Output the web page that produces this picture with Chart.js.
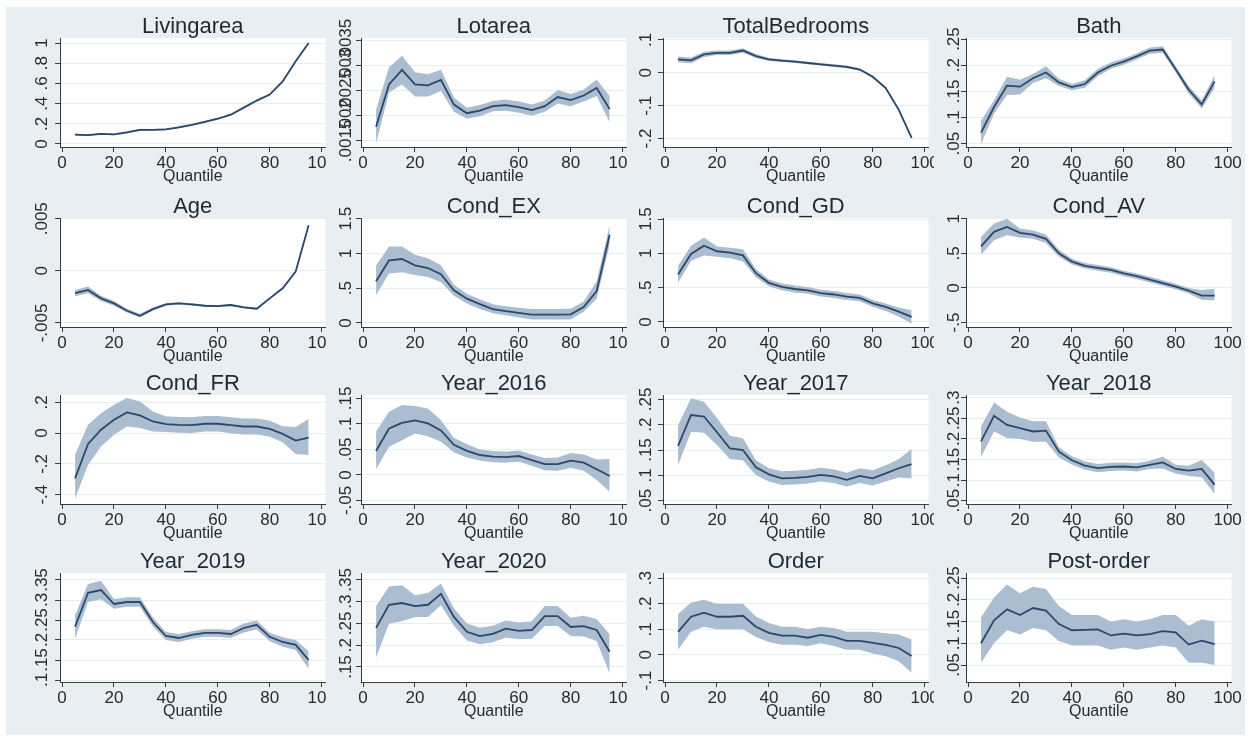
<!DOCTYPE html>
<html>
<head>
<meta charset="utf-8">
<script src="https://cdn.jsdelivr.net/npm/chart.js@4.4.1/dist/chart.umd.min.js"></script>
<style>
  html, body { margin: 0; padding: 0; background: #ffffff; overflow: hidden; }
  #board { position: absolute; left: 6px; top: 7px; width: 1239px; height: 728px; background: #e8eef1; }
  canvas.panel { position: absolute; background: #e8eef1; }
</style>
</head>
<body>
<div id="board"></div>
<script>
// Quantile grid shared by every panel
const quantiles = [5, 10, 15, 20, 25, 30, 35, 40, 45, 50, 55, 60, 65, 70, 75, 80, 85, 90, 95];
const xTickValues = [0, 20, 40, 60, 80, 100];

// Livingarea
const livingareaEst = [.092, .088, .100, .095, .115, .140, .140, .145, .165, .190, .220, .250, .290, .360, .430, .490, .620, .820, 1.000];
const livingareaHi  = [.102, .097, .109, .104, .125, .150, .149, .154, .175, .200, .230, .260, .300, .370, .440, .500, .630, .830, 1.010];
const livingareaLo  = [.082, .079, .091, .086, .105, .130, .131, .136, .155, .180, .210, .240, .280, .350, .420, .480, .610, .810, .990];
const livingareaTicks = ['0', '.2', '.4', '.6', '.8', '1'];

// Lotarea
const lotareaEst = [.00178, .00262, .00291, .00262, .00260, .00271, .00222, .00205, .00210, .00219, .00221, .00217, .00211, .00219, .00237, .00231, .00240, .00255, .00213];
const lotareaHi  = [.00212, .00296, .00319, .00286, .00282, .00291, .00236, .00216, .00221, .00229, .00232, .00228, .00222, .00230, .00251, .00243, .00252, .00272, .00239];
const lotareaLo  = [.00145, .00246, .00262, .00238, .00238, .00249, .00208, .00194, .00199, .00209, .00210, .00206, .00200, .00208, .00224, .00219, .00228, .00239, .00187];
const lotareaTicks = ['.0015', '.002', '.0025', '.003', '.0035'];

// TotalBedrooms
const bedroomsEst = [.041, .038, .056, .061, .061, .068, .051, .041, .037, .034, .030, .026, .022, .018, .010, -.012, -.046, -.112, -.198];
const bedroomsHi  = [.050, .047, .064, .068, .068, .075, .057, .046, .041, .038, .034, .030, .026, .022, .014, -.008, -.042, -.108, -.194];
const bedroomsLo  = [.032, .029, .048, .054, .054, .061, .045, .036, .033, .030, .026, .022, .018, .014, .006, -.016, -.050, -.116, -.202];
const bedroomsTicks = ['-.2', '-.1', '0', '.1'];

// Bath
const bathEst = [.071, .120, .161, .159, .175, .186, .167, .158, .164, .186, .199, .207, .217, .228, .230, .192, .153, .125, .169];
const bathHi  = [.094, .133, .178, .172, .183, .198, .174, .164, .171, .193, .205, .213, .223, .234, .236, .198, .160, .133, .181];
const bathLo  = [.049, .107, .143, .144, .166, .175, .160, .152, .157, .179, .193, .201, .211, .222, .224, .186, .146, .117, .157];
const bathTicks = ['.05', '.1', '.15', '.2', '.25'];

// Age
const ageEst = [-.00215, -.00183, -.00264, -.00312, -.00383, -.00431, -.00367, -.00322, -.00312, -.00322, -.00335, -.00338, -.00328, -.00350, -.00364, -.00264, -.00167, -.00007, .00437];
const ageHi  = [-.00185, -.00150, -.00238, -.00290, -.00365, -.00413, -.00352, -.00310, -.00301, -.00312, -.00326, -.00329, -.00319, -.00341, -.00355, -.00255, -.00158, .00003, .00448];
const ageLo  = [-.00245, -.00216, -.00290, -.00334, -.00401, -.00449, -.00382, -.00334, -.00323, -.00332, -.00344, -.00347, -.00337, -.00359, -.00373, -.00273, -.00176, -.00017, .00426];
const ageTicks = ['-.005', '0', '.005'];

// Cond_EX
const condExEst = [.60, .90, .92, .83, .79, .70, .47, .35, .27, .20, .17, .145, .12, .12, .12, .125, .23, .46, 1.27];
const condExHi  = [.83, 1.10, 1.10, .98, .93, .83, .55, .42, .34, .27, .24, .22, .20, .20, .20, .205, .31, .60, 1.41];
const condExLo  = [.40, .71, .73, .69, .66, .59, .39, .28, .20, .14, .11, .08, .05, .05, .05, .05, .16, .35, 1.12];
const condExTicks = ['0', '.5', '1', '1.5'];

// Cond_GD
const condGdEst = [.69, .99, 1.11, 1.03, 1.01, .97, .71, .57, .51, .48, .46, .42, .40, .37, .35, .27, .22, .15, .074];
const condGdHi  = [.82, 1.11, 1.23, 1.10, 1.08, 1.06, .77, .62, .56, .53, .51, .47, .45, .42, .40, .32, .27, .21, .17];
const condGdLo  = [.57, .89, .97, .95, .93, .88, .65, .52, .46, .43, .41, .37, .35, .32, .30, .22, .16, .08, -.025];
const condGdTicks = ['0', '.5', '1', '1.5'];

// Cond_AV
const condAvEst = [.60, .81, .88, .795, .77, .71, .50, .38, .32, .29, .26, .21, .17, .12, .07, .02, -.04, -.11, -.11];
const condAvHi  = [.74, .93, 1.00, .86, .83, .77, .55, .42, .36, .33, .30, .25, .21, .16, .11, .06, .00, -.03, -.01];
const condAvLo  = [.48, .69, .76, .73, .71, .65, .45, .34, .28, .25, .22, .17, .13, .08, .03, -.02, -.08, -.17, -.18];
const condAvTicks = ['-.5', '0', '.5', '1'];

// Cond_FR
const condFrEst = [-.294, -.070, .022, .087, .135, .115, .076, .059, .054, .052, .061, .061, .052, .043, .043, .028, -.005, -.048, -.029];
const condFrHi  = [-.140, .054, .130, .185, .229, .206, .141, .110, .105, .103, .112, .112, .104, .095, .095, .080, .045, .040, .092];
const condFrLo  = [-.425, -.207, -.087, -.011, .043, .033, .011, .008, .003, .001, .010, .010, .000, -.009, -.009, -.024, -.060, -.135, -.142];
const condFrTicks = ['-.4', '-.2', '0', '.2'];

// Year_2016
const y2016Est = [.047, .091, .102, .107, .101, .087, .059, .047, .039, .036, .035, .037, .029, .021, .021, .028, .024, .011, -.002];
const y2016Hi  = [.085, .124, .137, .135, .130, .107, .073, .060, .050, .047, .046, .048, .040, .033, .034, .043, .040, .030, .031];
const y2016Lo  = [.011, .055, .068, .081, .076, .065, .044, .034, .028, .025, .024, .026, .018, .009, .008, .014, .008, -.010, -.033];
const y2016Ticks = ['-.05', '0', '.05', '.1', '.15'];

// Year_2017
const y2017Est = [.158, .219, .216, .185, .153, .150, .116, .102, .094, .095, .097, .101, .098, .091, .099, .094, .104, .114, .122];
const y2017Hi  = [.199, .252, .245, .213, .178, .173, .130, .114, .108, .109, .111, .115, .112, .105, .114, .110, .120, .132, .152];
const y2017Lo  = [.120, .186, .184, .160, .132, .130, .100, .088, .081, .082, .084, .088, .085, .078, .085, .080, .088, .096, .094];
const y2017Ticks = ['.05', '.1', '.15', '.2', '.25'];

// Year_2018
const y2018Est = [.194, .256, .234, .226, .218, .220, .169, .148, .135, .129, .132, .133, .131, .137, .143, .127, .123, .127, .089];
const y2018Hi  = [.230, .288, .266, .252, .243, .243, .180, .158, .145, .139, .142, .143, .141, .147, .157, .137, .135, .149, .118];
const y2018Lo  = [.156, .218, .202, .200, .193, .193, .155, .138, .125, .119, .122, .123, .121, .127, .128, .116, .110, .107, .066];
const y2018Ticks = ['.05', '.1', '.15', '.2', '.25', '.3'];

// Year_2019
const y2019Est = [.233, .318, .325, .290, .295, .295, .245, .210, .205, .213, .218, .218, .215, .230, .238, .208, .195, .188, .150];
const y2019Hi  = [.262, .340, .348, .302, .307, .307, .256, .220, .215, .222, .227, .227, .225, .241, .249, .218, .207, .200, .172];
const y2019Lo  = [.203, .295, .302, .278, .283, .283, .234, .200, .195, .203, .208, .208, .205, .219, .226, .197, .183, .175, .128];
const y2019Ticks = ['.1', '.15', '.2', '.25', '.3', '.35'];

// Year_2020
const y2020Est = [.240, .293, .297, .290, .293, .318, .265, .231, .221, .226, .238, .233, .235, .267, .267, .242, .244, .235, .185];
const y2020Hi  = [.290, .335, .338, .315, .320, .342, .285, .250, .240, .245, .257, .252, .255, .290, .290, .263, .268, .260, .225];
const y2020Lo  = [.172, .250, .255, .265, .265, .292, .245, .211, .202, .207, .218, .214, .215, .244, .244, .221, .220, .210, .135];
const y2020Ticks = ['.15', '.2', '.25', '.3', '.35'];

// Order
const orderEst = [.090, .149, .165, .149, .149, .153, .110, .086, .075, .075, .067, .078, .070, .055, .055, .047, .039, .027, -.004];
const orderHi  = [.160, .205, .215, .200, .200, .200, .150, .125, .110, .110, .100, .110, .105, .090, .090, .090, .085, .080, .060];
const orderLo  = [.020, .090, .110, .100, .100, .100, .070, .050, .040, .040, .035, .045, .035, .020, .020, .005, -.005, -.025, -.070];
const orderTicks = ['-.1', '0', '.1', '.2', '.3'];

// Post-order
const postOrderEst = [.100, .153, .178, .165, .181, .175, .144, .130, .131, .132, .118, .122, .118, .121, .128, .125, .097, .106, .098];
const postOrderHi  = [.160, .205, .235, .215, .230, .225, .185, .165, .165, .165, .150, .155, .150, .155, .165, .165, .140, .155, .150];
const postOrderLo  = [.055, .100, .130, .120, .135, .130, .105, .095, .095, .095, .085, .090, .085, .090, .095, .090, .055, .055, .050];
const postOrderTicks = ['.05', '.1', '.15', '.2', '.25'];

// Panel list: series, tick labels and vertical axis range of each small multiple
const panels = [
  { title: 'Livingarea',    est: livingareaEst, hi: livingareaHi, lo: livingareaLo, ticks: livingareaTicks, yMin: -.03,    yMax: 1.05 },
  { title: 'Lotarea',       est: lotareaEst,    hi: lotareaHi,    lo: lotareaLo,    ticks: lotareaTicks,    yMin: .00138,  yMax: .00354 },
  { title: 'TotalBedrooms', est: bedroomsEst,   hi: bedroomsHi,   lo: bedroomsLo,   ticks: bedroomsTicks,   yMin: -.2256,  yMax: .106 },
  { title: 'Bath',          est: bathEst,       hi: bathHi,       lo: bathLo,       ticks: bathTicks,       yMin: .0436,   yMax: .252 },
  { title: 'Age',           est: ageEst,        hi: ageHi,        lo: ageLo,        ticks: ageTicks,        yMin: -.00539, yMax: .00507 },
  { title: 'Cond_EX',       est: condExEst,     hi: condExHi,     lo: condExLo,     ticks: condExTicks,     yMin: -.058,   yMax: 1.51 },
  { title: 'Cond_GD',       est: condGdEst,     hi: condGdHi,     lo: condGdLo,     ticks: condGdTicks,     yMin: -.074,   yMax: 1.515 },
  { title: 'Cond_AV',       est: condAvEst,     hi: condAvHi,     lo: condAvLo,     ticks: condAvTicks,     yMin: -.564,   yMax: 1.01 },
  { title: 'Cond_FR',       est: condFrEst,     hi: condFrHi,     lo: condFrLo,     ticks: condFrTicks,     yMin: -.461,   yMax: .248 },
  { title: 'Year_2016',     est: y2016Est,      hi: y2016Hi,      lo: y2016Lo,      ticks: y2016Ticks,      yMin: -.057,   yMax: .1566 },
  { title: 'Year_2017',     est: y2017Est,      hi: y2017Hi,      lo: y2017Lo,      ticks: y2017Ticks,      yMin: .0435,   yMax: .2585 },
  { title: 'Year_2018',     est: y2018Est,      hi: y2018Hi,      lo: y2018Lo,      ticks: y2018Ticks,      yMin: .042,    yMax: .3065 },
  { title: 'Year_2019',     est: y2019Est,      hi: y2019Hi,      lo: y2019Lo,      ticks: y2019Ticks,      yMin: .095,    yMax: .3675 },
  { title: 'Year_2020',     est: y2020Est,      hi: y2020Hi,      lo: y2020Lo,      ticks: y2020Ticks,      yMin: .1155,   yMax: .366 },
  { title: 'Order',         est: orderEst,      hi: orderHi,      lo: orderLo,      ticks: orderTicks,      yMin: -.106,   yMax: .32 },
  { title: 'Post-order',    est: postOrderEst,  hi: postOrderHi,  lo: postOrderLo,  ticks: postOrderTicks,  yMin: .011,    yMax: .2615 }
];

// Grid geometry of the 4 x 4 layout
const FONT = "'Liberation Sans', Arial, Helvetica, sans-serif";
const colLeft = [20, 326, 628, 934];
const colAxisW = [40, 35, 35, 32];
const colLabelGap = [13, 10, 12, 7];
const rowPlotTop = [38, 218, 395, 573];
const PLOT_W = 266, PLOT_H = 109, TOP_SPACE = 31, BOTTOM_SPACE = 40, RIGHT_SPACE = 13;

const LINE_COLOR = '#2d4866';
const BAND_COLOR = '#abbdd1';
const AXIS_COLOR = '#3a3a3a';
const GRID_COLOR = '#e6eef0';
const TEXT_COLOR = '#1f2933';

Chart.defaults.font.family = FONT;

// White plot region, panel title and rotated y tick labels
const panelDecor = {
  id: 'panelDecor',
  beforeDraw(chart) {
    const { ctx, chartArea: a } = chart;
    ctx.save();
    ctx.fillStyle = '#ffffff';
    ctx.fillRect(a.left, a.top, a.right - a.left, a.bottom - a.top);
    ctx.restore();
  },
  afterDraw(chart, args, opts) {
    const { ctx, chartArea: a } = chart;
    const yScale = chart.scales.y;
    ctx.save();
    ctx.fillStyle = TEXT_COLOR;
    ctx.font = `22px ${FONT}`;
    ctx.textAlign = 'center';
    ctx.textBaseline = 'alphabetic';
    ctx.fillText(opts.title, (a.left + a.right) / 2, a.top - 5.5);
    ctx.font = `17px ${FONT}`;
    ctx.fillStyle = '#2a2a2a';
    opts.tickLabels.forEach(label => {
      const py = yScale.getPixelForValue(parseFloat(label));
      ctx.save();
      ctx.translate(a.left - opts.labelGap, py);
      ctx.rotate(-Math.PI / 2);
      ctx.fillText(label, 0, 0);
      ctx.restore();
    });
    ctx.restore();
  }
};

const toPoints = values => values.map((v, i) => ({ x: quantiles[i], y: v }));

panels.forEach((p, idx) => {
  const row = Math.floor(idx / 4), col = idx % 4;
  const axisW = colAxisW[col];
  const canvas = document.createElement('canvas');
  canvas.className = 'panel';
  canvas.width = axisW + PLOT_W + RIGHT_SPACE;
  canvas.height = TOP_SPACE + PLOT_H + BOTTOM_SPACE;
  canvas.style.left = colLeft[col] + 'px';
  canvas.style.top = (rowPlotTop[row] - TOP_SPACE) + 'px';
  canvas.style.width = canvas.width + 'px';
  canvas.style.height = canvas.height + 'px';
  document.body.appendChild(canvas);

  new Chart(canvas, {
    type: 'line',
    data: {
      datasets: [
        { data: toPoints(p.est), borderColor: LINE_COLOR, borderWidth: 1.8, pointRadius: 0, fill: false, tension: 0 },
        { data: toPoints(p.hi), borderColor: BAND_COLOR, borderWidth: 0, pointRadius: 0, backgroundColor: BAND_COLOR, fill: '+1', tension: 0 },
        { data: toPoints(p.lo), borderColor: BAND_COLOR, borderWidth: 0, pointRadius: 0, fill: false, tension: 0 }
      ]
    },
    options: {
      responsive: false,
      animation: false,
      events: [],
      layout: { padding: { top: TOP_SPACE, right: RIGHT_SPACE, bottom: 0, left: 0 } },
      plugins: {
        legend: { display: false },
        tooltip: { enabled: false },
        panelDecor: { title: p.title, tickLabels: p.ticks, labelGap: colLabelGap[col] }
      },
      scales: {
        x: {
          type: 'linear',
          min: -0.8,
          max: 101.5,
          afterBuildTicks: s => { s.ticks = xTickValues.map(v => ({ value: v })); },
          afterFit: s => { s.height = BOTTOM_SPACE; },
          grid: { drawOnChartArea: false, drawTicks: true, tickLength: 5, tickColor: AXIS_COLOR, color: AXIS_COLOR },
          border: { color: AXIS_COLOR, width: 1 },
          ticks: { autoSkip: false, maxRotation: 0, minRotation: 0, padding: 3, color: '#2a2a2a', font: { size: 17, lineHeight: 1 } },
          title: { display: true, text: 'Quantile', color: TEXT_COLOR, font: { size: 16 }, padding: { top: 0, bottom: 1 } }
        },
        y: {
          type: 'linear',
          min: p.yMin,
          max: p.yMax,
          afterBuildTicks: s => { s.ticks = p.ticks.map(l => ({ value: parseFloat(l) })); },
          afterFit: s => { s.width = axisW; },
          grid: { color: GRID_COLOR, tickColor: AXIS_COLOR, tickLength: 5, drawTicks: true },
          border: { color: AXIS_COLOR, width: 1 },
          ticks: { display: false }
        }
      }
    },
    plugins: [panelDecor]
  });
});
</script>
</body>
</html>
